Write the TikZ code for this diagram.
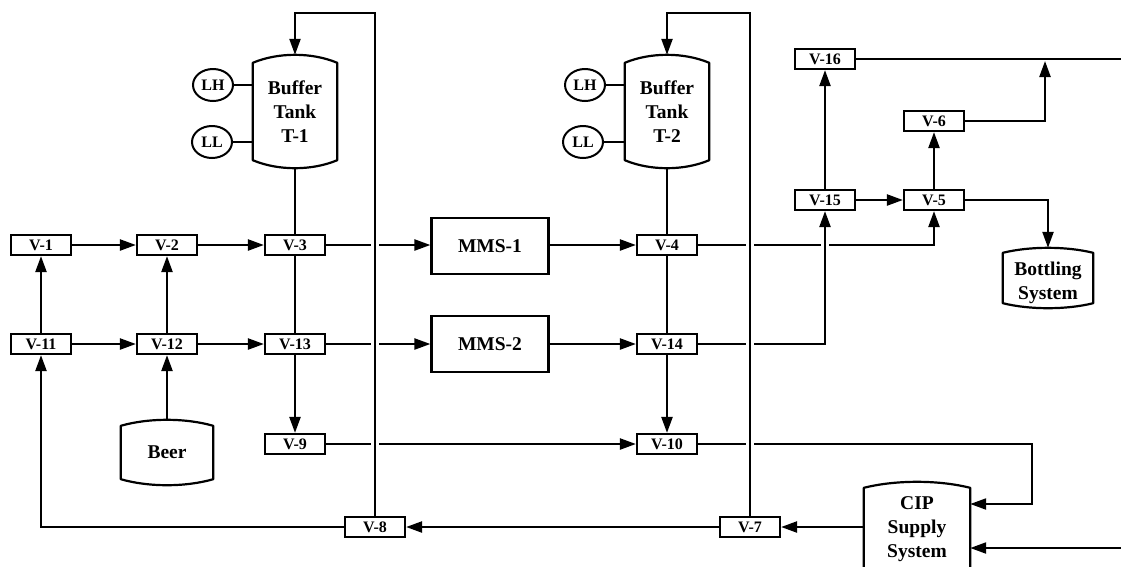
\documentclass[tikz,border=0pt]{standalone}
\usepackage{fontspec}
\setmainfont{Liberation Serif}
\usetikzlibrary{arrows.meta,calc,shapes.geometric,backgrounds}

\newcommand{\smallfont}{\fontsize{16}{18}\selectfont\bfseries}
\newcommand{\bigfont}{\fontsize{19.5}{24}\selectfont\bfseries}

% outline of a vessel: straight sides, bulged top and bottom
\newcommand{\vesseloutline}[2]{% #1 node, #2 bulge
  \draw[line width=2.2pt,line join=round]
    ($(#1.north west)+(0,#2)$)
      .. controls ($(#1.north west)!.3!(#1.north east)+(0,-#2/3)$)
         and ($(#1.north east)!.3!(#1.north west)+(0,-#2/3)$)
      .. ($(#1.north east)+(0,#2)$)
    -- ($(#1.south east)+(0,-#2)$)
      .. controls ($(#1.south east)!.3!(#1.south west)+(0,#2/3)$)
         and ($(#1.south west)!.3!(#1.south east)+(0,#2/3)$)
      .. ($(#1.south west)+(0,-#2)$)
    -- cycle;}

\begin{document}
\begin{tikzpicture}[x=1pt,y=-1pt,
  valve/.style={draw,fill=white,line width=2.2pt,minimum width=60pt,
    minimum height=20pt,inner sep=0pt,font=\smallfont},
  unit/.style={draw,fill=white,line width=2.2pt,minimum width=117pt,
    minimum height=56pt,inner sep=0pt,font=\bigfont},
  vessel/.style={inner sep=0pt,align=center,font=\bigfont},
  gauge/.style={ellipse,draw,fill=white,line width=2pt,minimum width=40pt,
    minimum height=32pt,inner sep=0pt,font=\smallfont},
  pipe/.style={line width=2.3pt},
  flow/.style={line width=2.3pt,-{Triangle[length=16pt,width=11pt]}},
  over/.style={preaction={draw=white,line width=8pt,arrows=-}}]

\useasboundingbox (0,0) rectangle (1121,566);

% vessels
\node[vessel,minimum width=84pt,minimum height=113pt] (T1) at (295,111.5) {Buffer\\Tank\\T-1};
\node[vessel,minimum width=84pt,minimum height=113pt] (T2) at (667,111.5) {Buffer\\Tank\\T-2};
\node[vessel,minimum width=92pt,minimum height=65pt] (Beer) at (167,452.5) {Beer};
\node[vessel,minimum width=90pt,minimum height=60pt] (Bot) at (1048,278) {\rule{0pt}{24pt}Bottling\\System};
\node[vessel,minimum width=106pt,minimum height=94pt] (CIP) at (917,529) {CIP\\Supply\\System};
\vesseloutline{T1}{8}
\vesseloutline{T2}{8}
\vesseloutline{Beer}{6}
\vesseloutline{Bot}{5}
\vesseloutline{CIP}{6}

% level switches
\node[gauge] (LH1) at (213,85) {LH};
\node[gauge] (LL1) at (212,142) {LL};
\node[gauge] (LH2) at (585,85) {LH};
\node[gauge] (LL2) at (583,142) {LL};

% membrane units
\node[unit] (MMS1) at (490,246) {MMS-1};
\node[unit] (MMS2) at (490,344) {MMS-2};

% valves
\node[valve] (V1) at (41,245) {V-1};
\node[valve] (V2) at (167,245) {V-2};
\node[valve] (V3) at (295,245) {V-3};
\node[valve] (V4) at (667,245) {V-4};
\node[valve] (V11) at (41,344) {V-11};
\node[valve] (V12) at (167,344) {V-12};
\node[valve] (V13) at (295,344) {V-13};
\node[valve] (V14) at (667,344) {V-14};
\node[valve] (V9) at (295,444) {V-9};
\node[valve] (V10) at (667,444) {V-10};
\node[valve] (V8) at (375,527) {V-8};
\node[valve] (V7) at (750,527) {V-7};
\node[valve] (V16) at (825,59) {V-16};
\node[valve] (V6) at (934,121) {V-6};
\node[valve] (V15) at (825,200) {V-15};
\node[valve] (V5) at (934,200) {V-5};

% free ends
\coordinate (top1) at (375,13);
\coordinate (top2) at (750,13);
\coordinate (join) at (1045,61);
\coordinate (out16) at (1121,59);
\coordinate (ret) at (1032,444);
\coordinate (cipret) at (1121,548);

\begin{scope}[on background layer]
% level switch lines
\draw[pipe] (LH1.east) -- (LH1.east -| T1.west);
\draw[pipe] (LL1.east) -- (LL1.east -| T1.west);
\draw[pipe] (LH2.east) -- (LH2.east -| T2.west);
\draw[pipe] (LL2.east) -- (LL2.east -| T2.west);

% feed side
\draw[flow] (V1.east) -- (V2.west);
\draw[flow] (V2.east) -- (V3.west);
\draw[flow] (V11.east) -- (V12.west);
\draw[flow] (V12.east) -- (V13.west);
\draw[flow] (V11.north) -- (V1.south);
\draw[flow] (V12.north) -- (V2.south);
\draw[flow] (Beer.north) -- (V12.south);
\draw[pipe] (T1.south) -- (V3.north);
\draw[pipe] (V3.south) -- (V13.north);
\draw[flow] (V13.south) -- (V9.north);
\draw[flow] (V3.east) -- (V3.east -| MMS1.west);
\draw[flow] (V13.east) -- (MMS2.west);
\draw[flow] (V9.east) -- (V10.west);

% product side
\draw[flow] (MMS1.east |- V4.west) -- (V4.west);
\draw[flow] (MMS2.east) -- (V14.west);
\draw[pipe] (T2.south) -- (V4.north);
\draw[pipe] (V4.south) -- (V14.north);
\draw[flow] (V14.south) -- (V10.north);
\draw[flow] (V4.east) -| (V5.south);
\draw[flow] (V15.east) -- (V5.west);
\draw[flow] (V15.north) -- (V16.south);
\draw[flow] (V5.north) -- (V6.south);
\draw[flow] (V6.east) -| (join);
\draw[pipe] (V16.east) -- (out16);
\draw[flow] (V5.east) -| (Bot.north);

% cleaning loop
\draw[flow] (V10.east) -- (ret) |- ($(CIP.east)+(0,-25)$);
\draw[flow] (cipret) -- (cipret -| CIP.east);
\draw[flow] (CIP.west |- V7.east) -- (V7.east);
\draw[flow] (V7.west) -- (V8.east);
\draw[flow] (V8.west) -| (V11.south);

% lines passing over others
\draw[flow,over] (V14.east) -| (V15.south);
\draw[flow,over] (V8.north) -- (top1) -| (T1.north);
\draw[flow,over] (V7.north) -- (top2) -| (T2.north);
\end{scope}

\end{tikzpicture}
\end{document}
